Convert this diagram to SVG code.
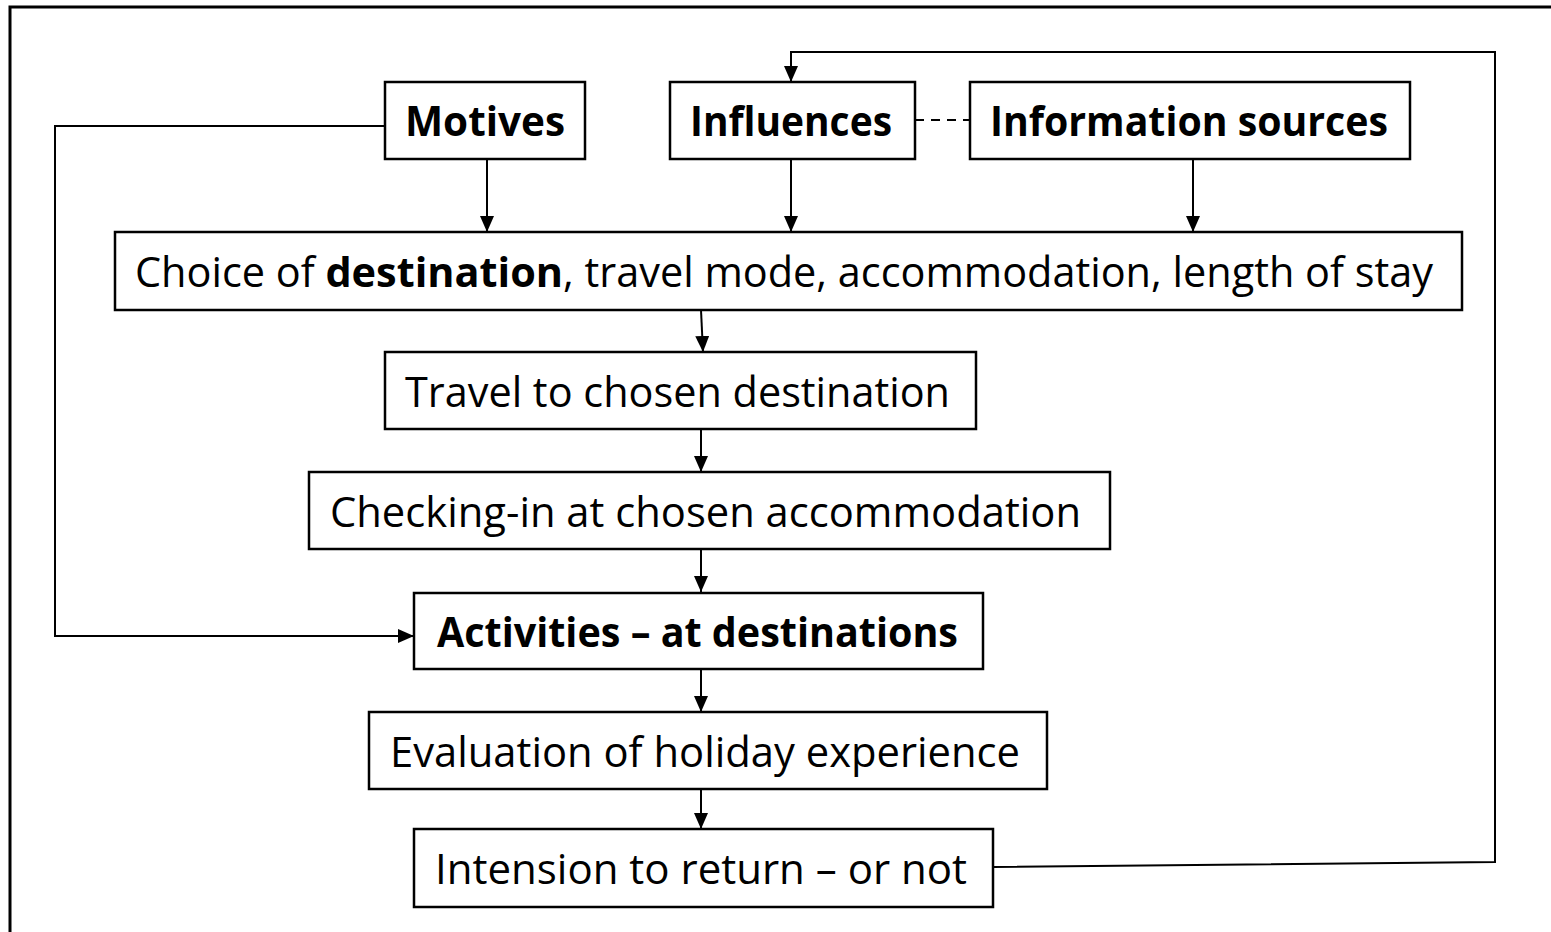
<svg xmlns="http://www.w3.org/2000/svg" width="1551" height="932" viewBox="0 0 1551 932">
<style>
.box{fill:#fff;stroke:#000;stroke-width:2.5}
.t{font-family:"Open Sans","Liberation Sans",sans-serif;font-size:42px;fill:#000;text-anchor:start}
.b{font-weight:bold}
.c{fill:none;stroke:#000;stroke-width:2}
</style>
<defs>
<marker id="ah" markerUnits="userSpaceOnUse" markerWidth="18" markerHeight="16" refX="16" refY="7" orient="auto">
<path d="M0,0 L16,7 L0,14 z" fill="#000"/>
</marker>
</defs>
<rect x="0" y="0" width="1551" height="932" fill="#fff"/>
<rect x="10" y="7" width="1560" height="960" fill="none" stroke="#000" stroke-width="3"/>
<g id="connectors">
<line class="c" x1="487" y1="159" x2="487" y2="232" marker-end="url(#ah)"/>
<line class="c" x1="791" y1="159" x2="791" y2="232" marker-end="url(#ah)"/>
<line class="c" x1="1193" y1="159" x2="1193" y2="232" marker-end="url(#ah)"/>
<line class="c" x1="701" y1="310" x2="703" y2="352" marker-end="url(#ah)"/>
<line class="c" x1="701" y1="429" x2="701" y2="472" marker-end="url(#ah)"/>
<line class="c" x1="701" y1="549" x2="701" y2="592" marker-end="url(#ah)"/>
<line class="c" x1="701" y1="669" x2="701" y2="712" marker-end="url(#ah)"/>
<line class="c" x1="701" y1="789" x2="701" y2="829" marker-end="url(#ah)"/>
<polyline class="c" points="993,867 1495,862 1495,52 791,52 791,82" marker-end="url(#ah)"/>
<polyline class="c" points="385,126 55,126 55,636 414,636" marker-end="url(#ah)"/>
<line class="c" x1="915" y1="120" x2="970" y2="120" stroke-dasharray="9,7"/>
</g>
<g id="motives">
<rect class="box" x="385" y="82" width="200" height="77"/>
<text class="t b" x="405" y="136" textLength="160" lengthAdjust="spacingAndGlyphs">Motives</text>
</g>
<g id="influences">
<rect class="box" x="670" y="82" width="245" height="77"/>
<text class="t b" x="690" y="136" textLength="202" lengthAdjust="spacingAndGlyphs">Influences</text>
</g>
<g id="information-sources">
<rect class="box" x="970" y="82" width="440" height="77"/>
<text class="t b" x="990" y="136" textLength="398" lengthAdjust="spacingAndGlyphs">Information sources</text>
</g>
<g id="choice">
<rect class="box" x="115" y="232" width="1347" height="78"/>
<text class="t" x="135" y="287" textLength="1298" lengthAdjust="spacingAndGlyphs">Choice of <tspan class="b">destination</tspan>, travel mode, accommodation, length of stay</text>
</g>
<g id="travel">
<rect class="box" x="385" y="352" width="591" height="77"/>
<text class="t" x="405" y="407" textLength="545" lengthAdjust="spacingAndGlyphs">Travel to chosen destination</text>
</g>
<g id="checking-in">
<rect class="box" x="309" y="472" width="801" height="77"/>
<text class="t" x="330" y="527" textLength="751" lengthAdjust="spacingAndGlyphs">Checking-in at chosen accommodation</text>
</g>
<g id="activities">
<rect class="box" x="414" y="593" width="569" height="76"/>
<text class="t b" x="437" y="647" textLength="521" lengthAdjust="spacingAndGlyphs">Activities – at destinations</text>
</g>
<g id="evaluation">
<rect class="box" x="369" y="712" width="678" height="77"/>
<text class="t" x="390" y="767" textLength="630" lengthAdjust="spacingAndGlyphs">Evaluation of holiday experience</text>
</g>
<g id="intension">
<rect class="box" x="414" y="829" width="579" height="78"/>
<text class="t" x="435" y="884" textLength="532" lengthAdjust="spacingAndGlyphs">Intension to return – or not</text>
</g>
</svg>
